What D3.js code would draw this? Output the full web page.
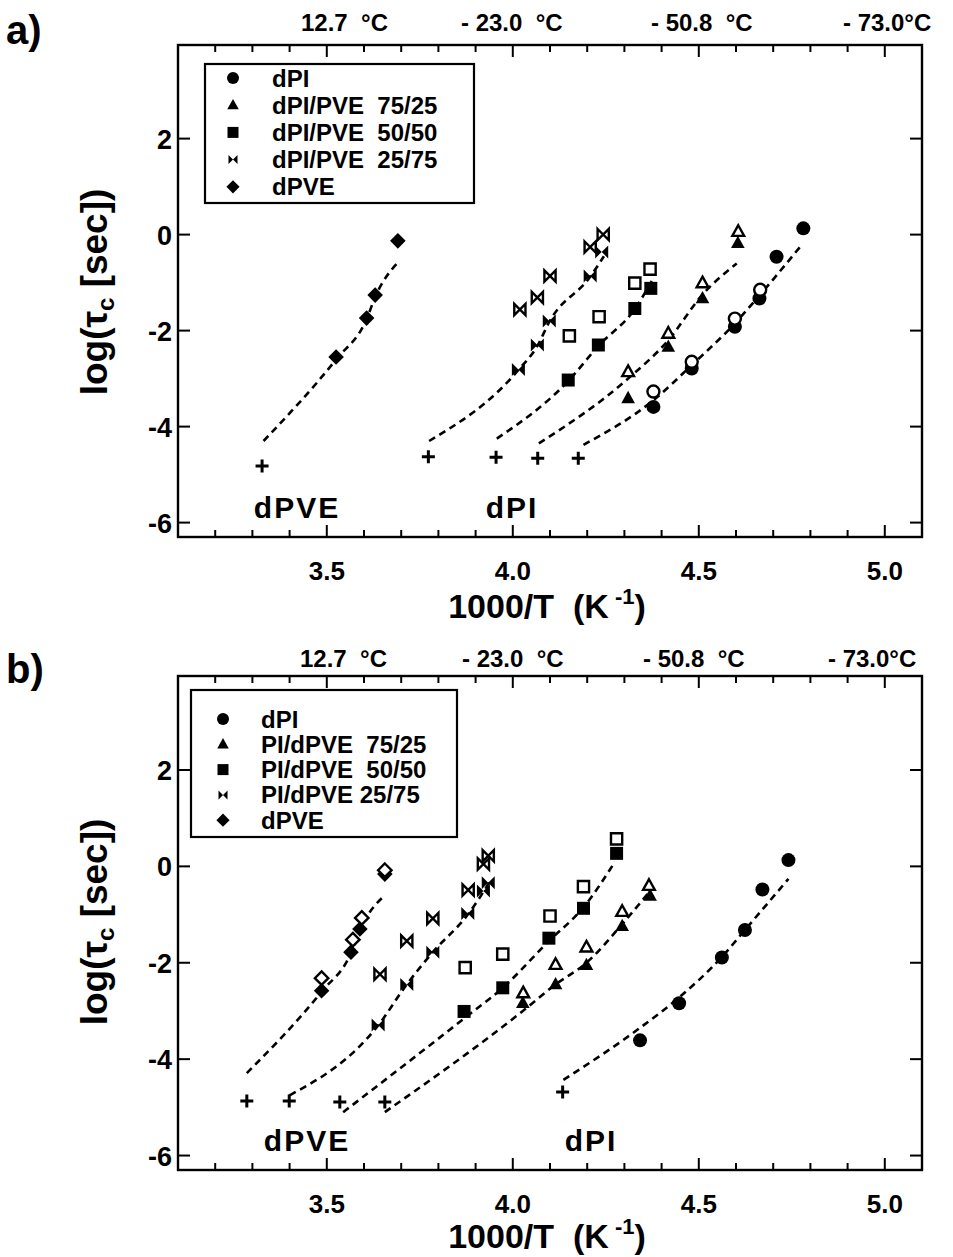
<!DOCTYPE html>
<html>
<head>
<meta charset="utf-8">
<script src="https://cdn.jsdelivr.net/npm/d3@7"></script>
<style>
  body { margin: 0; background: #fff; }
  text { font-family: "Liberation Sans", Arial, sans-serif; font-weight: bold; fill: #000; }
</style>
</head>
<body>
<svg width="953" height="1257"></svg>
<script>
// ---- data (x = 1000/T in 1/K, y = log tau_c in sec) ----
const xTicks = d3.range(31, 52).map(d => d / 10)
const xLabels = [3.5, 4.0, 4.5, 5.0]
const yLabels = [2, 0, -2, -4, -6]
const tempLabels = ['12.7  °C', '- 23.0  °C', '- 50.8  °C', '- 73.0°C']

const legendA = ['dPI', 'dPI/PVE  75/25', 'dPI/PVE  50/50', 'dPI/PVE  25/75', 'dPVE']
const legendB = ['dPI', 'PI/dPVE  75/25', 'PI/dPVE  50/50', 'PI/dPVE 25/75', 'dPVE']

// panel a
const aDPI = [[4.781, 0.13], [4.709, -0.46], [4.663, -1.33], [4.597, -1.92], [4.481, -2.79], [4.378, -3.59]]
const aDPIOpen = [[4.665, -1.15], [4.597, -1.75], [4.481, -2.65], [4.378, -3.27]]
const a7525 = [[4.605, -0.18], [4.51, -1.33], [4.418, -2.34], [4.31, -3.41]]
const a7525Open = [[4.606, 0.06], [4.51, -1.01], [4.418, -2.06], [4.31, -2.86]]
const a5050 = [[4.371, -1.12], [4.328, -1.54], [4.23, -2.3], [4.149, -3.03]]
const a5050Open = [[4.369, -0.72], [4.328, -1.01], [4.232, -1.71], [4.152, -2.11]]
const a2575 = [[4.239, -0.36], [4.208, -0.86], [4.098, -1.8], [4.066, -2.3], [4.015, -2.81]]
const a2575Open = [[4.243, 0.0], [4.208, -0.26], [4.1, -0.86], [4.066, -1.31], [4.019, -1.56]]
const aDPVE = [[3.691, -0.13], [3.63, -1.26], [3.607, -1.74], [3.525, -2.55]]
const aPlus = [[3.326, -4.82], [3.773, -4.63], [3.955, -4.64], [4.067, -4.66], [4.176, -4.66]]

const aFitDPVE = [[3.33, -4.3], [3.525, -2.6], [3.607, -1.76], [3.63, -1.3], [3.695, -0.55]]
const aFit2575 = [[3.775, -4.3], [4.015, -2.82], [4.066, -2.32], [4.098, -1.82], [4.208, -0.88], [4.245, -0.45]]
const aFit5050 = [[3.957, -4.25], [4.149, -3.05], [4.23, -2.32], [4.328, -1.55], [4.375, -0.95]]
const aFit7525 = [[4.07, -4.35], [4.31, -3.0], [4.418, -2.2], [4.51, -1.25], [4.602, -0.6]]
const aFitDPI = [[4.19, -4.38], [4.378, -3.45], [4.481, -2.72], [4.597, -1.85], [4.663, -1.27], [4.776, -0.22]]

// panel b
const bDPI = [[4.741, 0.13], [4.671, -0.48], [4.624, -1.32], [4.562, -1.89], [4.447, -2.84], [4.342, -3.61]]
const b7525 = [[4.369, -0.61], [4.294, -1.24], [4.198, -2.05], [4.115, -2.45], [4.027, -2.84]]
const b7525Open = [[4.366, -0.4], [4.294, -0.94], [4.198, -1.68], [4.115, -2.04], [4.028, -2.63]]
const b5050 = [[4.279, 0.27], [4.19, -0.87], [4.097, -1.49], [3.973, -2.52], [3.869, -3.01]]
const b5050Open = [[4.279, 0.57], [4.19, -0.42], [4.1, -1.03], [3.973, -1.82], [3.872, -2.1]]
const b2575 = [[3.934, -0.34], [3.921, -0.51], [3.879, -0.98], [3.785, -1.78], [3.715, -2.45], [3.638, -3.29]]
const b2575Open = [[3.934, 0.22], [3.921, 0.05], [3.88, -0.49], [3.785, -1.08], [3.715, -1.55], [3.643, -2.24]]
const bDPVE = [[3.656, -0.16], [3.589, -1.3], [3.565, -1.78], [3.486, -2.58]]
const bDPVEOpen = [[3.656, -0.08], [3.594, -1.07], [3.57, -1.52], [3.486, -2.32]]
const bPlus = [[3.285, -4.87], [3.399, -4.87], [3.535, -4.89], [3.656, -4.89], [4.134, -4.68]]

const bFitDPVE = [[3.285, -4.29], [3.486, -2.6], [3.565, -1.8], [3.589, -1.32], [3.656, -0.6]]
const bFit2575 = [[3.4, -4.75], [3.638, -3.3], [3.715, -2.45], [3.785, -1.78], [3.879, -1.0], [3.94, -0.3]]
const bFit5050 = [[3.544, -5.1], [3.87, -3.15], [3.973, -2.52], [4.097, -1.55], [4.19, -0.85], [4.275, 0.1]]
const bFit7525 = [[3.656, -5.1], [4.027, -3.0], [4.115, -2.45], [4.198, -2.0], [4.294, -1.2], [4.37, -0.5]]
const bFitDPI = [[4.136, -4.43], [4.342, -3.35], [4.447, -2.72], [4.562, -1.88], [4.624, -1.32], [4.741, -0.26]]

// ---- drawing ----
const svg = d3.select('svg')
const plotLeft = 178, plotRight = 922

const x = d3.scaleLinear().domain([3.1, 5.1]).range([plotLeft, plotRight])

function shape(type, s) {
  if (type === 'circle') return d3.symbol(d3.symbolCircle, Math.PI * s * s)()
  if (type === 'triangle') return `M0,${-s * 1.15}L${s * 1.05},${s * 0.75}L${-s * 1.05},${s * 0.75}Z`
  if (type === 'square') return `M${-s},${-s}H${s}V${s}H${-s}Z`
  if (type === 'diamond') return `M0,${-s * 1.2}L${s * 1.2},0L0,${s * 1.2}L${-s * 1.2},0Z`
  if (type === 'bowtie') return `M${-s},${-s}L${s},${s}V${-s}L${-s},${s}Z`
  return `M${-s},0H${s}M0,${-s}V${s}`
}

const panels = [
  {
    label: 'a)', labelY: 44, top: 45, bottom: 537, tempY: 31,
    tempX: [301, 461, 651, 843],
    legend: legendA, legendBox: [205, 64, 474, 203], legendRow0: 78, legendStep: 27.2,
    legendMarkX: 233, legendTextX: 272,
    fits: [aFitDPVE, aFit2575, aFit5050, aFit7525, aFitDPI],
    filled: [[aDPI, 'circle'], [a7525, 'triangle'], [a5050, 'square'], [a2575, 'bowtie'], [aDPVE, 'diamond']],
    open: [[aDPIOpen, 'circle'], [a7525Open, 'triangle'], [a5050Open, 'square'], [a2575Open, 'bowtie']],
    plus: aPlus,
    names: [['dPVE', 297], ['dPI', 512]], nameY: 518,
    xTitleY: 618, yTitleY: 292
  },
  {
    label: 'b)', labelY: 683, top: 676, bottom: 1170, tempY: 667,
    tempX: [300, 462, 643, 828],
    legend: legendB, legendBox: [191, 690, 457, 837], legendRow0: 719, legendStep: 25.3,
    legendMarkX: 223, legendTextX: 261,
    fits: [bFitDPVE, bFit2575, bFit5050, bFit7525, bFitDPI],
    filled: [[bDPI, 'circle'], [b7525, 'triangle'], [b5050, 'square'], [b2575, 'bowtie'], [bDPVE, 'diamond']],
    open: [[b7525Open, 'triangle'], [b5050Open, 'square'], [b2575Open, 'bowtie'], [bDPVEOpen, 'diamond']],
    plus: bPlus,
    names: [['dPVE', 307], ['dPI', 591]], nameY: 1151,
    xTitleY: 1248, yTitleY: 922
  }
]

const legendShapes = ['circle', 'triangle', 'square', 'bowtie', 'diamond']

panels.forEach(p => {
  const g = svg.append('g')
  const y = d3.scaleLinear().domain([-6.3, 3.95]).range([p.bottom, p.top])

  // frame
  g.append('rect')
    .attr('x', plotLeft).attr('y', p.top)
    .attr('width', plotRight - plotLeft).attr('height', p.bottom - p.top)
    .attr('fill', 'none').attr('stroke', '#000').attr('stroke-width', 2.4)

  const isMajor = v => Math.abs(v * 2 - Math.round(v * 2)) < 1e-6

  // x ticks on bottom and top, pointing inward
  g.selectAll('.xb').data(xTicks).enter().append('line')
    .attr('x1', d => x(d)).attr('x2', d => x(d))
    .attr('y1', p.bottom).attr('y2', d => p.bottom - (isMajor(d) ? 12 : 7))
    .attr('stroke', '#000').attr('stroke-width', 2)
  g.selectAll('.xt').data(xTicks).enter().append('line')
    .attr('x1', d => x(d)).attr('x2', d => x(d))
    .attr('y1', p.top).attr('y2', d => p.top + (isMajor(d) ? 12 : 7))
    .attr('stroke', '#000').attr('stroke-width', 2)

  // y ticks left and right
  g.selectAll('.yl').data(yLabels).enter().append('line')
    .attr('x1', plotLeft).attr('x2', plotLeft + 12)
    .attr('y1', d => y(d)).attr('y2', d => y(d))
    .attr('stroke', '#000').attr('stroke-width', 2)
  g.selectAll('.yr').data(yLabels).enter().append('line')
    .attr('x1', plotRight).attr('x2', plotRight - 12)
    .attr('y1', d => y(d)).attr('y2', d => y(d))
    .attr('stroke', '#000').attr('stroke-width', 2)

  // tick labels
  g.selectAll('.xlab').data(xLabels).enter().append('text')
    .attr('x', d => x(d)).attr('y', p.bottom + 43)
    .attr('text-anchor', 'middle').attr('font-size', 26)
    .text(d => d3.format('.1f')(d))
  g.selectAll('.ylab').data(yLabels).enter().append('text')
    .attr('x', plotLeft - 6).attr('y', d => y(d) + 10)
    .attr('text-anchor', 'end').attr('font-size', 27)
    .text(d => String(d))

  // axis titles
  const xt = g.append('text')
    .attr('x', 547).attr('y', p.xTitleY)
    .attr('text-anchor', 'middle').attr('font-size', 34)
    .style('white-space', 'pre')
  xt.append('tspan').text('1000/T  (K')
  xt.append('tspan').attr('font-size', 22).attr('dy', -14).text(' -1')
  xt.append('tspan').attr('dy', 14).text(')')

  const yt = g.append('text')
    .attr('transform', `translate(107,${p.yTitleY}) rotate(-90)`)
    .attr('text-anchor', 'middle').attr('font-size', 37)
  yt.append('tspan').text('log(τ')
  yt.append('tspan').attr('font-size', 24).attr('dy', 7).text('c')
  yt.append('tspan').attr('dy', -7).text(' [sec])')

  // panel label and temperature labels
  g.append('text').attr('x', 6).attr('y', p.labelY).attr('font-size', 40).text(p.label)
  g.selectAll('.temp').data(tempLabels).enter().append('text')
    .attr('x', (d, i) => p.tempX[i]).attr('y', p.tempY)
    .attr('font-size', 24).style('white-space', 'pre')
    .text(d => d)

  // dashed fit curves
  const line = d3.line().x(d => x(d[0])).y(d => y(d[1])).curve(d3.curveMonotoneX)
  g.selectAll('.fit').data(p.fits).enter().append('path')
    .attr('d', line).attr('fill', 'none').attr('stroke', '#000')
    .attr('stroke-width', 2.6).attr('stroke-dasharray', '7,5')

  // plus markers
  g.selectAll('.plus').data(p.plus).enter().append('path')
    .attr('transform', d => `translate(${x(d[0])},${y(d[1])})`)
    .attr('d', shape('plus', 6.5)).attr('stroke', '#000').attr('stroke-width', 3).attr('fill', 'none')

  // filled markers
  p.filled.forEach(([data, type]) => {
    g.selectAll(null).data(data).enter().append('path')
      .attr('transform', d => `translate(${x(d[0])},${y(d[1])})`)
      .attr('d', shape(type, type === 'circle' ? 7 : 6.5)).attr('fill', '#000')
  })

  // open markers
  p.open.forEach(([data, type]) => {
    g.selectAll(null).data(data).enter().append('path')
      .attr('transform', d => `translate(${x(d[0])},${y(d[1])})`)
      .attr('d', shape(type, type === 'circle' ? 6 : 5.6))
      .attr('fill', '#fff').attr('stroke', '#000').attr('stroke-width', 2.4)
  })

  // series names inside plot
  g.selectAll('.name').data(p.names).enter().append('text')
    .attr('x', d => d[1]).attr('y', p.nameY)
    .attr('text-anchor', 'middle').attr('font-size', 30).attr('letter-spacing', 2)
    .text(d => d[0])

  // legend
  const [bx0, by0, bx1, by1] = p.legendBox
  g.append('rect').attr('x', bx0).attr('y', by0)
    .attr('width', bx1 - bx0).attr('height', by1 - by0)
    .attr('fill', '#fff').attr('stroke', '#000').attr('stroke-width', 2.2)
  p.legend.forEach((name, i) => {
    const cy = p.legendRow0 + i * p.legendStep
    const t = legendShapes[i]
    g.append('path')
      .attr('transform', `translate(${p.legendMarkX},${cy})`)
      .attr('d', shape(t, t === 'circle' ? 6 : t === 'bowtie' ? 4.5 : 5.5)).attr('fill', '#000')
    g.append('text').attr('x', p.legendTextX).attr('y', cy + 8.5)
      .attr('font-size', 24).style('white-space', 'pre').text(name)
  })
})
</script>
</body>
</html>
